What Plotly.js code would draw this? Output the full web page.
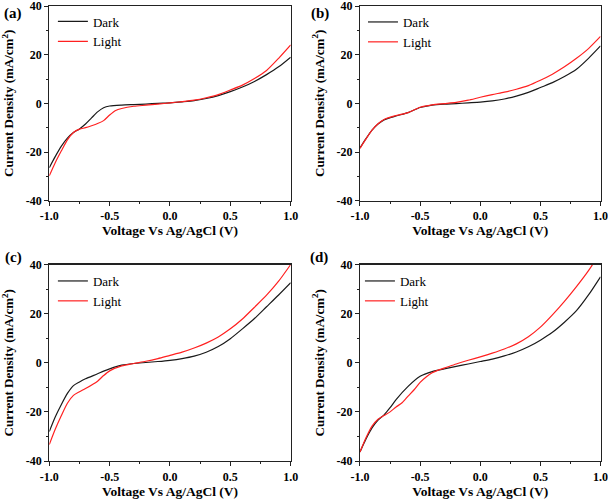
<!DOCTYPE html>
<html>
<head>
<meta charset="utf-8">
<script src="https://cdn.plot.ly/plotly-3.0.1.min.js"></script>
<style>
  html, body { margin: 0; padding: 0; background: #fff; }
  #chart { width: 608px; height: 500px; }
</style>
</head>
<body>
<div id="chart"></div>
<script>
"use strict";

// panel (a)
var vDarkA = [-1.0, -0.95, -0.9, -0.85, -0.8, -0.75, -0.7, -0.65, -0.6, -0.55, -0.5, -0.4, -0.3, -0.2, -0.1, 0.0, 0.1, 0.2, 0.3, 0.4, 0.5, 0.6, 0.7, 0.8, 0.9, 1.0];
var jDarkA = [-26.4, -21.8, -17.6, -14.3, -12, -10.5, -8.5, -6, -3.5, -1.8, -1.1, -0.7, -0.5, -0.3, 0, 0.2, 0.6, 1.1, 2, 3.2, 4.8, 6.7, 9, 11.8, 15, 19];
var vLightA = [-1.0, -0.95, -0.9, -0.85, -0.8, -0.75, -0.7, -0.65, -0.6, -0.55, -0.5, -0.45, -0.4, -0.3, -0.2, -0.1, 0.0, 0.1, 0.2, 0.3, 0.4, 0.5, 0.6, 0.7, 0.8, 0.9, 1.0];
var jLightA = [-29.8, -24.3, -19.5, -15, -12, -10.6, -10, -9.2, -8.3, -7.1, -4.8, -2.9, -2.1, -1.2, -0.75, -0.3, 0.2, 0.7, 1.3, 2.3, 3.6, 5.5, 7.5, 10.2, 13.5, 18.5, 24];

// panel (b)
var vB = [-1.0, -0.95, -0.9, -0.85, -0.8, -0.7, -0.6, -0.5, -0.4, -0.3, -0.2, -0.1, 0.0, 0.1, 0.2, 0.3, 0.4, 0.5, 0.6, 0.7, 0.8, 0.9, 1.0];
var jDarkB = [-18.3, -14.5, -11, -8.5, -6.8, -5.2, -3.8, -1.7, -0.7, -0.3, -0.1, 0.2, 0.5, 1, 1.8, 3, 4.5, 6.5, 8.5, 11, 14, 18.5, 23.6];
var jLightB = [-18.5, -14.6, -11, -8.4, -6.6, -5, -3.8, -1.6, -0.6, -0.1, 0.4, 1.3, 2.5, 3.6, 4.6, 5.8, 7.3, 9.5, 12, 15, 18.5, 22.5, 27.5];

// panel (c)
var vC = [-1.0, -0.95, -0.9, -0.85, -0.8, -0.75, -0.7, -0.6, -0.55, -0.5, -0.4, -0.3, -0.2, -0.1, 0.0, 0.1, 0.2, 0.3, 0.4, 0.5, 0.6, 0.7, 0.8, 0.9, 1.0];
var jDarkC = [-28, -22, -17, -12.5, -9.3, -7.8, -6.5, -4.5, -3.4, -2.5, -1, -0.3, 0.1, 0.5, 1, 1.7, 2.7, 4.3, 6.6, 9.8, 13.8, 18, 22.8, 27.6, 32.6];
var jLightC = [-33.3, -27, -21.5, -16.5, -13.3, -11.8, -10.5, -7.5, -5.2, -3.3, -1.3, -0.3, 0.6, 1.7, 3, 4.3, 6, 8, 10.5, 13.8, 17.8, 22.6, 27.5, 33.2, 40];

// panel (d)
var vDarkD = [-1.0, -0.95, -0.9, -0.85, -0.8, -0.75, -0.7, -0.6, -0.5, -0.4, -0.3, -0.2, -0.1, 0.0, 0.1, 0.2, 0.3, 0.4, 0.5, 0.6, 0.7, 0.8, 0.9, 1.0];
var jDarkD = [-36.3, -31, -26.5, -23.3, -21.2, -18.3, -15, -9.6, -5.5, -3.6, -2.5, -1.5, -0.5, 0.5, 1.5, 2.8, 4.4, 6.5, 9.2, 12.4, 16.5, 21.2, 27.6, 35];
var vLightD = [-1.0, -0.95, -0.9, -0.85, -0.8, -0.75, -0.7, -0.65, -0.6, -0.55, -0.5, -0.45, -0.4, -0.35, -0.3, -0.2, -0.1, 0.0, 0.1, 0.2, 0.3, 0.4, 0.5, 0.6, 0.7, 0.8, 0.9, 1.0];
var jLightD = [-36.3, -30.5, -25.8, -23, -21.5, -20, -18, -16.3, -13.6, -11, -8, -5.8, -4.1, -3, -2.2, -0.5, 1, 2.4, 3.9, 5.6, 7.7, 10.6, 14.5, 19.5, 25, 31, 37.5, 45];

var xTickVals = [-1.0, -0.5, 0.0, 0.5, 1.0];
var xTickText = ["-1.0", "-0.5", "0.0", "0.5", "1.0"];
var yTickVals = [-40, -20, 0, 20, 40];
var yTickText = ["-40", "-20", "0", "20", "40"];

var panelLabels = ["(a)", "(b)", "(c)", "(d)"];

var FONT = "Liberation Serif, Times New Roman, serif";

function curve(x, y, name, color, n) {
  var s = n === 1 ? "" : String(n);
  return {
    x: x, y: y, name: name, type: "scatter", mode: "lines",
    line: {color: color, width: 1.2, shape: "spline", smoothing: 0.7},
    xaxis: "x" + s, yaxis: "y" + s, legend: "legend" + s
  };
}

var data = [
  curve(vDarkA, jDarkA, "Dark", "#1a1a1a", 1),
  curve(vLightA, jLightA, "Light", "#ff2020", 1),
  curve(vB, jDarkB, "Dark", "#1a1a1a", 2),
  curve(vB, jLightB, "Light", "#ff2020", 2),
  curve(vC, jDarkC, "Dark", "#1a1a1a", 3),
  curve(vC, jLightC, "Light", "#ff2020", 3),
  curve(vDarkD, jDarkD, "Dark", "#1a1a1a", 4),
  curve(vLightD, jLightD, "Light", "#ff2020", 4)
];

function xAxis(domain, anchor) {
  return {
    domain: domain, anchor: anchor, range: [-1, 1],
    tickmode: "array", tickvals: xTickVals, ticktext: xTickText,
    ticks: "outside", ticklen: 4, tickwidth: 1, tickcolor: "#222",
    minor: {tickmode: "linear", tick0: -1, dtick: 0.25, ticks: "outside", ticklen: 2, tickcolor: "#222"},
    showline: true, mirror: true, linecolor: "#222", linewidth: 1.2,
    showgrid: false, zeroline: false, ticklabeloverflow: "allow",
    tickfont: {family: FONT, size: 12, color: "#000", weight: "bold"},
    title: {text: "Voltage Vs Ag/AgCl (V)", standoff: 0,
      font: {family: FONT, size: 13.5, color: "#000", weight: "bold"}}
  };
}

function yAxis(domain, anchor) {
  return {
    domain: domain, anchor: anchor, range: [-40, 40],
    tickmode: "array", tickvals: yTickVals, ticktext: yTickText,
    ticks: "outside", ticklen: 4, tickwidth: 1, tickcolor: "#222",
    minor: {tickmode: "linear", tick0: -40, dtick: 10, ticks: "outside", ticklen: 2, tickcolor: "#222"},
    showline: true, mirror: true, linecolor: "#222", linewidth: 1.2,
    showgrid: false, zeroline: false, ticklabeloverflow: "allow",
    tickfont: {family: FONT, size: 12, color: "#000", weight: "bold"},
    title: {text: "Current Density (mA/cm<sup>2</sup>)", font: {family: FONT, size: 13, color: "#000", weight: "bold"}}
  };
}

function legendAt(x, y) {
  return {
    x: x, y: y, xanchor: "left", yanchor: "top",
    bgcolor: "rgba(0,0,0,0)", borderwidth: 0,
    font: {family: FONT, size: 13, color: "#000"}
  };
}

var colX = [[0.0811, 0.4781], [0.5921, 0.9877]];
var rowY = [[0.5986, 0.988], [0.078, 0.471]];

var layout = {
  width: 608, height: 500,
  margin: {l: 0, r: 0, t: 0, b: 0},
  paper_bgcolor: "#fff", plot_bgcolor: "#fff",
  showlegend: true,
  xaxis: xAxis(colX[0], "y"), yaxis: yAxis(rowY[0], "x"),
  xaxis2: xAxis(colX[1], "y2"), yaxis2: yAxis(rowY[0], "x2"),
  xaxis3: xAxis(colX[0], "y3"), yaxis3: yAxis(rowY[1], "x3"),
  xaxis4: xAxis(colX[1], "y4"), yaxis4: yAxis(rowY[1], "x4"),
  legend: legendAt(0.087, 0.987),
  legend2: legendAt(0.597, 0.986),
  legend3: legendAt(0.087, 0.468),
  legend4: legendAt(0.592, 0.468),
  annotations: [
    {text: panelLabels[0], x: 13 / 608, y: 1 - 13 / 500},
    {text: panelLabels[1], x: 320 / 608, y: 1 - 13 / 500},
    {text: panelLabels[2], x: 13 / 608, y: 1 - 257 / 500},
    {text: panelLabels[3], x: 319 / 608, y: 1 - 257 / 500}
  ].map(function (a) {
    a.xref = "paper"; a.yref = "paper"; a.showarrow = false;
    a.xanchor = "center"; a.yanchor = "middle";
    a.font = {family: FONT, size: 15, color: "#000", weight: "bold"};
    return a;
  })
};

Plotly.newPlot("chart", data, layout, {displayModeBar: false, staticPlot: true});
</script>
</body>
</html>
